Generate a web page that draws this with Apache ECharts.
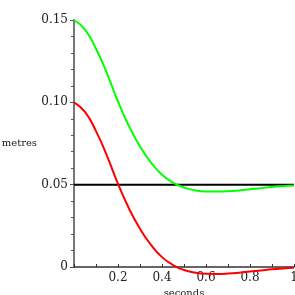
<!DOCTYPE html>
<html>
<head>
<meta charset="utf-8">
<script src="https://cdn.jsdelivr.net/npm/echarts@6/dist/echarts.min.js"></script>
<style>
  html, body { margin: 0; padding: 0; background: #fff; }
  #chart { width: 295px; height: 295px; }
</style>
</head>
<body>
<div id="chart"></div>
<script>
// time samples (seconds)
var times = [0, 0.05, 0.1, 0.15, 0.2, 0.25, 0.3, 0.35, 0.4, 0.45, 0.5,
             0.55, 0.6, 0.65, 0.7, 0.75, 0.8, 0.85, 0.9, 0.95, 1.0];
// red curve (metres)
var redVals = [0.1, 0.0942, 0.0825, 0.0675, 0.0505, 0.0355, 0.0232, 0.0134, 0.006, 0.0012, -0.0018,
               -0.0034, -0.0041, -0.0042, -0.0040, -0.0035, -0.0028, -0.0021, -0.0014, -0.0009, -0.0005];
// green curve (metres)
var greenVals = [0.15, 0.1442, 0.1325, 0.1175, 0.1005, 0.0855, 0.0732, 0.0634, 0.056, 0.0512, 0.0482,
                 0.0466, 0.0459, 0.0458, 0.0460, 0.0465, 0.0472, 0.0479, 0.0486, 0.0491, 0.0495];
// black reference level
var refLevel = 0.05;
var yTicks = ['0', '0.05', '0.10', '0.15'];

function pairs(xs, ys) {
  var out = [];
  for (var i = 0; i < xs.length; i++) out.push([xs[i], ys[i]]);
  return out;
}

var chart = echarts.init(document.getElementById('chart'));
var font = 'DejaVu Serif';

var option = {
  animation: false,
  grid: { left: 74, right: 1, top: 20, bottom: 28, containLabel: false, outerBoundsMode: 'none' },
  xAxis: {
    type: 'value',
    min: 0, max: 1, interval: 0.2,
    name: 'seconds',
    nameLocation: 'middle',
    nameGap: 21,
    nameMoveOverlap: false,
    nameTextStyle: { fontFamily: font, fontSize: 10, color: '#222' },
    axisLine: { show: true, onZero: false, lineStyle: { color: '#333', width: 1.5 } },
    axisTick: { show: true, inside: true, length: 3, lineStyle: { color: '#333' } },
    minorTick: { show: true, splitNumber: 2, length: 3, lineStyle: { color: '#333' } },
    splitLine: { show: false },
    axisLabel: {
      fontFamily: font, fontSize: 12, color: '#222', margin: 5,
      formatter: function (v) { return v === 0 ? '' : String(+v.toFixed(1)); }
    }
  },
  yAxis: {
    type: 'value',
    min: 0, max: 0.15, interval: 0.05,
    name: 'metres',
    nameLocation: 'middle',
    nameRotate: 0,
    nameGap: 37,
    nameMoveOverlap: false,
    nameTextStyle: { fontFamily: font, fontSize: 10, color: '#222', align: 'right' },
    axisLine: { show: true, lineStyle: { color: '#777', width: 2 } },
    axisTick: { show: true, length: 4, lineStyle: { color: '#555' } },
    minorTick: { show: true, splitNumber: 5, length: 3, lineStyle: { color: '#555' } },
    splitLine: { show: false },
    axisLabel: {
      fontFamily: font, fontSize: 12, color: '#222', margin: 6,
      formatter: function (v) { return yTicks[Math.round(v / 0.05)]; }
    }
  },
  series: [
    {
      type: 'line',
      data: [[0, refLevel], [1, refLevel]],
      symbol: 'none',
      clip: false,
      lineStyle: { color: '#000', width: 2 }
    },
    {
      type: 'line',
      data: pairs(times, greenVals),
      smooth: true,
      symbol: 'none',
      clip: false,
      lineStyle: { color: '#00ff00', width: 2 }
    },
    {
      type: 'line',
      data: pairs(times, redVals),
      smooth: true,
      symbol: 'none',
      clip: false,
      lineStyle: { color: '#ff0000', width: 2 }
    }
  ]
};
chart.setOption(option);
</script>
</body>
</html>
